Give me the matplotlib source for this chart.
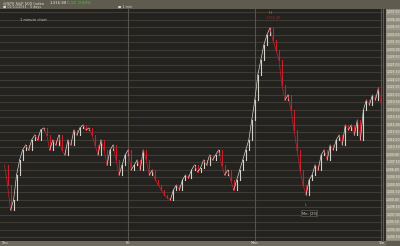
import matplotlib
matplotlib.use("Agg")
import matplotlib.pyplot as plt
from matplotlib.patches import Rectangle
import numpy as np

# ---- data ----
closes = [1307.0, 1303.0, 1298.0, 1300.0, 1305.0, 1308.0, 1310.0, 1311.0, 1310.0, 1312.0,
          1313.0, 1312.0, 1314.0, 1314.4, 1313.0, 1310.0, 1312.0, 1311.0, 1313.0, 1310.0,
          1309.0, 1312.0, 1311.0, 1314.0, 1313.0, 1314.4, 1315.0, 1314.0, 1314.4, 1313.0,
          1311.0, 1309.0, 1312.0, 1310.0, 1307.0, 1310.0, 1311.0, 1308.0, 1305.0, 1307.0,
          1309.0, 1310.0, 1306.0, 1307.0, 1308.0, 1306.0, 1310.0, 1308.0, 1305.0, 1306.0,
          1304.0, 1303.0, 1302.0, 1301.0, 1300.4, 1300.0, 1302.0, 1303.0, 1302.0, 1304.0,
          1305.0, 1304.4, 1306.0, 1307.0, 1305.6, 1306.4, 1308.0, 1307.0, 1309.0, 1308.0,
          1309.0, 1310.0, 1307.0, 1305.0, 1306.0, 1304.0, 1302.0, 1304.0, 1306.0, 1308.0,
          1310.0, 1312.0, 1316.0, 1320.0, 1325.0, 1328.0, 1331.0, 1333.0, 1334.4, 1332.0,
          1330.0, 1328.0, 1323.0, 1320.0, 1321.0, 1318.0, 1314.0, 1310.0, 1306.0, 1303.0,
          1301.0, 1304.0, 1305.0, 1307.0, 1306.0, 1309.0, 1310.0, 1308.0, 1311.0, 1310.0,
          1312.0, 1313.0, 1311.0, 1315.0, 1314.0, 1315.0, 1313.0, 1316.0, 1312.0, 1318.0,
          1320.0, 1319.0, 1321.0, 1320.0, 1322.4, 1319.0]
day_labels = ["Thu", "Fri", "Mon", "Tue"]
day_starts = [0, 41, 83, 125]
y_ticks = [1292.5 + 1.5 * k for k in range(31)]
title_name = "@SPX S&P 500 Index"
title_last = "1,316.88"
title_chg = "0.12  0.93%"
high_label = "1,334.40"
low_label = "Mn: [29]"

W, H = 400, 246
fig = plt.figure(figsize=(W / 100, H / 100), dpi=100)
fig.patch.set_facecolor("#5f5b4e")

def fx(px):
    return px / W

def fy(py):
    return 1 - py / H

# plot axes
ax = fig.add_axes([0, fy(241), fx(386), fy(9) - fy(241)])
ax.set_facecolor("#23221e")
ymin, ymax = 1291.8, 1338.2
n = len(closes)
ax.set_xlim(-1.5, n + 0.5)
ax.set_ylim(ymin, ymax)
for t in y_ticks:
    ax.axhline(t, color="#3e3c35", lw=0.8, zorder=1)
for d in day_starts[1:]:
    ax.axvline(d, color="#55534a", lw=0.8, zorder=1)

xs = np.arange(n)
for i in range(1, n):
    c = "#d6d2ca" if closes[i] >= closes[i - 1] else "#c8202a"
    ax.plot([xs[i - 1], xs[i]], [closes[i - 1], closes[i]], color=c, lw=0.5, zorder=3)
    ax.plot([xs[i], xs[i]], [closes[i - 1], closes[i]], color=c, lw=0.8, zorder=3)

ax.set_xticks([])
ax.set_yticks([])
for s in ax.spines.values():
    s.set_visible(False)

ax.text(5, 1336.0, "1 minute chart", color="#c9c5bb", fontsize=2.6, va="center")
imax = int(np.argmax(closes))
imin = 100
ax.text(imax, 1337.4, "H", color="#d08a20", fontsize=2.6, ha="center", va="center")
ax.text(imax + 1, 1336.4, high_label, color="#b0202a", fontsize=2.4, ha="center", va="center")
ax.text(imin, closes[imin] - 2.0, "L", color="#d08a20", fontsize=2.6, ha="center", va="center")
ax.text(imin + 1, closes[imin] - 3.6, low_label, color="#c9c5bb", fontsize=2.6, ha="center", va="center",
        bbox=dict(boxstyle="square,pad=0.2", fc="#23221e", ec="#6a675d", lw=0.4))

# dark band and right label panel
fig.patches.append(Rectangle((fx(383), fy(241)), fx(3), fy(9) - fy(241), transform=fig.transFigure,
                             fc="#2e2d28", ec="none", zorder=0))
fig.add_artist(plt.Line2D([fx(383), fx(383)], [fy(241), fy(9)], color="#6a675d", lw=0.6))
rp = fig.add_axes([fx(386), fy(241), fx(14), fy(9) - fy(241)])
rp.set_facecolor("#8e8a7c")
rp.set_ylim(ymin, ymax)
rp.set_xlim(0, 1)
rp.set_xticks([])
rp.set_yticks([])
for s in rp.spines.values():
    s.set_visible(False)
for t in y_ticks:
    rp.text(0.5, t, f"{t:,.2f}", color="#f0ede6", fontsize=2.2, ha="center", va="center",
            bbox=dict(boxstyle="square,pad=0.15", fc="#9c9888", ec="none"))

# bottom axis strip
bt = fig.add_axes([0, 0, fx(386), fy(241)])
bt.set_facecolor("#6e6a5c")
bt.set_xlim(-1.5, n + 0.5)
bt.set_ylim(0, 1)
bt.set_xticks([])
bt.set_yticks([])
for s in bt.spines.values():
    s.set_visible(False)
for d, lab in zip(day_starts, day_labels):
    bt.text(d, 0.5, lab, color="#eeeae2", fontsize=2.6, ha="center", va="center")

# header text
fig.text(fx(3), fy(3), title_name, color="#e6e2d8", fontsize=2.8, va="center")
fig.text(fx(50), fy(3), title_last, color="#e6e2d8", fontsize=2.8, va="center")
fig.text(fx(67), fy(3), title_chg, color="#33dd33", fontsize=2.8, va="center")
fig.text(fx(3), fy(7), "■ 01/11/2011   5 days", color="#d8d4ca", fontsize=2.4, va="center")
fig.text(fx(118), fy(7), "■ 1 min", color="#d8d4ca", fontsize=2.4, va="center")

fig.savefig("out.png", dpi=100, facecolor=fig.get_facecolor())
